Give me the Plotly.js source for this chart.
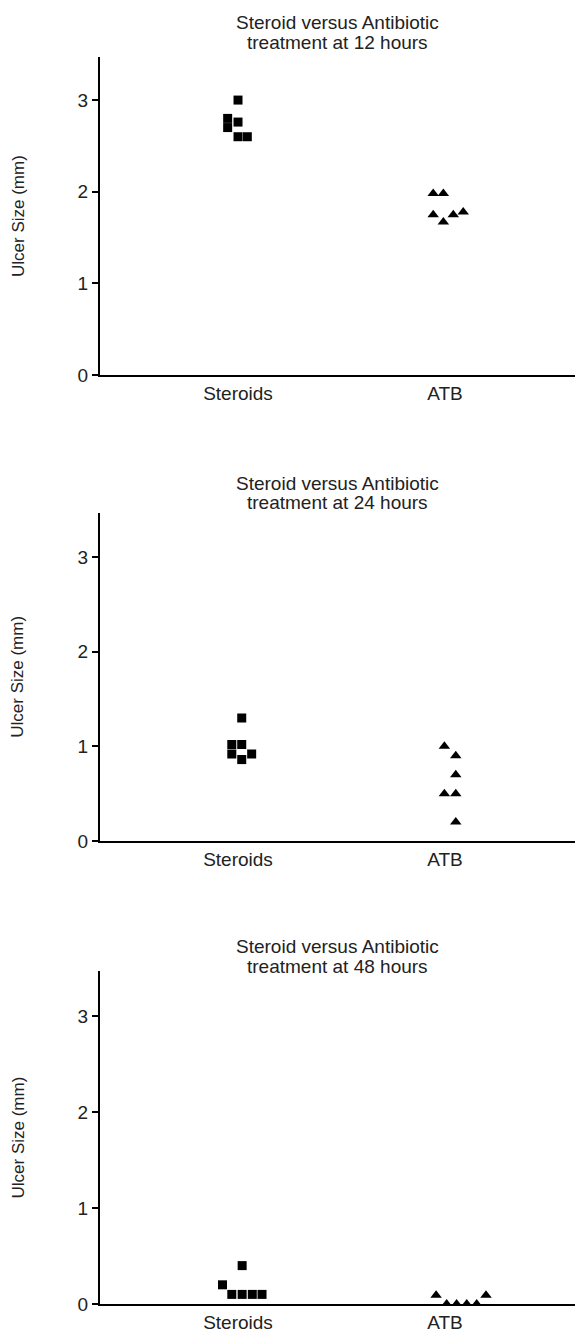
<!DOCTYPE html>
<html>
<head>
<meta charset="utf-8">
<script src="https://cdn.plot.ly/plotly-3.0.1.min.js"></script>
<style>html,body{margin:0;padding:0;background:#fff;}#chart{width:575px;height:1337px;}</style>
</head>
<body>
<div id="chart"></div>
<script>
// Category labels
const categories = ['Steroids', 'ATB'];
const yTicks = [0, 1, 2, 3];
const titleLine1 = 'Steroid versus Antibiotic';
const titleLine2 = ['treatment at 12 hours', 'treatment at 24 hours', 'treatment at 48 hours'];

// Ulcer sizes (mm) and horizontal jitter (category units)
const steroids12 = [3.0, 2.8, 2.76, 2.7, 2.6, 2.6];
const steroids12Jit = [0, -0.05, 0, -0.05, 0, 0.045];
const atb12 = [1.98, 1.98, 1.75, 1.67, 1.75, 1.78];
const atb12Jit = [-0.057, -0.008, -0.057, -0.008, 0.04, 0.088];

const steroids24 = [1.3, 1.02, 1.02, 0.92, 0.86, 0.92];
const steroids24Jit = [0.018, -0.03, 0.018, -0.03, 0.018, 0.066];
const atb24 = [1.0, 0.9, 0.7, 0.5, 0.5, 0.2];
const atb24Jit = [-0.003, 0.052, 0.052, -0.003, 0.052, 0.052];

const steroids48 = [0.4, 0.2, 0.1, 0.1, 0.1, 0.1];
const steroids48Jit = [0.02, -0.075, -0.03, 0.02, 0.069, 0.116];
const atb48 = [0.09, 0.0, 0.0, 0.0, 0.0, 0.09];
const atb48Jit = [-0.043, 0.008, 0.056, 0.105, 0.153, 0.198];

const groups = [
  [steroids12, steroids12Jit, atb12, atb12Jit],
  [steroids24, steroids24Jit, atb24, atb24Jit],
  [steroids48, steroids48Jit, atb48, atb48Jit]
];

const H = 1337;
// pixel extents of each panel's y axis [top, bottom]
const panelPx = [[57, 375], [512.5, 841], [971, 1304]];
const titleLinesY = [[22, 42], [483, 503], [946, 966]];

const traces = [];
const layout = {
  width: 575, height: 1337,
  margin: {l: 100, r: 0, t: 0, b: 0},
  paper_bgcolor: '#fff', plot_bgcolor: '#fff',
  showlegend: false,
  font: {family: 'Liberation Sans, Arial, sans-serif', size: 19, color: '#222'},
  annotations: []
};

groups.forEach((g, i) => {
  const sfx = i === 0 ? '' : String(i + 1);
  const [sv, sj, av, aj] = g;
  traces.push({
    type: 'scatter', mode: 'markers',
    x: sv.map((v, k) => 0 + sj[k]), y: sv,
    xaxis: 'x' + sfx, yaxis: 'y' + sfx,
    marker: {symbol: 'square', size: 9, color: '#000'},
    hoverinfo: 'y'
  });
  traces.push({
    type: 'scatter', mode: 'markers',
    x: av.map((v, k) => 1 + aj[k]), y: av,
    xaxis: 'x' + sfx, yaxis: 'y' + sfx,
    marker: {symbol: 'triangle-up', size: 10, color: '#000'},
    hoverinfo: 'y'
  });
  const [top, bot] = panelPx[i];
  layout['xaxis' + sfx] = {
    domain: [0, 1], anchor: 'y' + sfx,
    range: [-0.6667, 1.628],
    tickvals: [0, 1], ticktext: categories,
    showline: true, linecolor: '#000', linewidth: 2,
    showgrid: false, zeroline: false, ticks: '',
    tickfont: {size: 19, color: '#222'}
  };
  layout['yaxis' + sfx] = {
    domain: [1 - bot / H, 1 - top / H], anchor: 'x' + sfx,
    range: [0, 3.47],
    tickvals: yTicks,
    showline: true, linecolor: '#000', linewidth: 2,
    showgrid: false, zeroline: false,
    ticks: 'outside', ticklen: 6, tickwidth: 2, tickcolor: '#000',
    tickfont: {size: 19, color: '#222'}
  };
  const lines = [titleLine1, titleLine2[i]];
  lines.forEach((t, j) => {
    layout.annotations.push({
      text: t, xref: 'paper', yref: 'paper',
      x: 0.5, y: 1 - titleLinesY[i][j] / H,
      xanchor: 'center', yanchor: 'middle', showarrow: false,
      font: {size: 19, color: '#222'}
    });
  });
  layout.annotations.push({
    text: 'Ulcer Size (mm)', xref: 'paper', yref: 'paper',
    x: (18 - 100) / 475, y: 1 - ((top + bot) / 2) / H,
    xanchor: 'center', yanchor: 'middle', showarrow: false,
    textangle: -90,
    font: {size: 17, color: '#222'}
  });
});

Plotly.newPlot('chart', traces, layout, {displayModeBar: false, staticPlot: true});
</script>
</body>
</html>
